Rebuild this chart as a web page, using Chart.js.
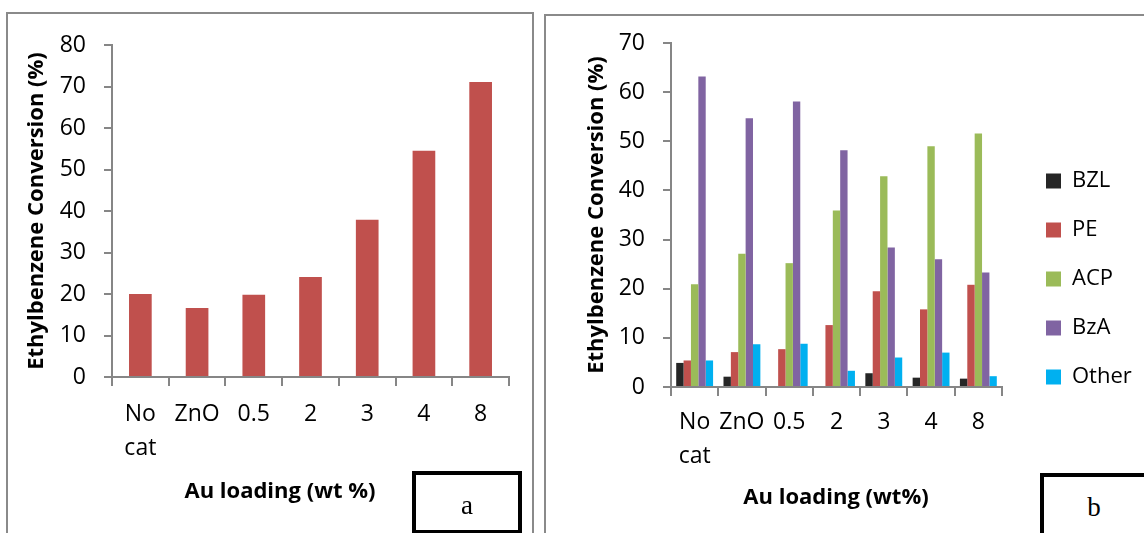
<!DOCTYPE html>
<html>
<head>
<meta charset="utf-8">
<script src="https://cdn.jsdelivr.net/npm/chart.js"></script>
<style>
  body { margin: 0; width: 1144px; height: 533px; background: #fff; overflow: hidden; position: relative; font-family: "Open Sans", sans-serif; }
  .panel { position: absolute; border: 2px solid #8a8a8a; box-sizing: border-box; }
  #panelA { left: 6px; top: 12px; width: 528px; height: 540px; }
  #panelB { left: 544px; top: 14px; width: 620px; height: 540px; }
  canvas { position: absolute; top: 0; }
  #chartA { left: 0; }
  #chartB { left: 540px; }
  .xtitle { position: absolute; font-weight: bold; font-size: 22px; color: #000; white-space: nowrap; transform: translate(-50%, -50%); }
  .tag { position: absolute; border: 4px solid #000; box-sizing: border-box; background: #fff; font-family: "Liberation Serif", serif; font-size: 27px; }
  .tag span { position: absolute; transform: translate(-50%, -50%); }
</style>
</head>
<body>
<div class="panel" id="panelA"></div>
<div class="panel" id="panelB"></div>
<canvas id="chartA" width="540" height="533"></canvas>
<canvas id="chartB" width="604" height="533"></canvas>
<div class="xtitle" style="left:280px; top:489px;">Au loading (wt %)</div>
<div class="xtitle" style="left:836px; top:495px;">Au loading (wt%)</div>
<div class="tag" style="left:412px; top:471px; width:110px; height:63px;"><span style="left:51px; top:30px;">a</span></div>
<div class="tag" style="left:1040px; top:473px; width:120px; height:70px;"><span style="left:50px; top:30px;">b</span></div>
<script>
// x categories shared by both panels
const categories = [['No', 'cat'], 'ZnO', '0.5', '2', '3', '4', '8'];

// panel a: total conversion
const conversion = [20.0, 16.6, 19.8, 24.1, 37.9, 54.5, 71.1];

// panel b: product distribution
const productNames = ['BZL', 'PE', 'ACP', 'BzA', 'Other'];
const bzl = [4.9, 2.1, 0, 0, 2.8, 1.9, 1.7];
const pe = [5.4, 7.1, 7.7, 12.6, 19.5, 15.8, 20.8];
const acp = [20.9, 27.1, 25.2, 35.9, 42.9, 49.0, 51.6];
const bza = [63.2, 54.7, 58.1, 48.2, 28.4, 26.0, 23.3];
const other = [5.4, 8.7, 8.8, 3.3, 6.0, 7.0, 2.2];
const productColors = ['#262626', '#C0504D', '#9BBB59', '#8064A2', '#00B0F0'];

const axisGray = '#868686';
const fontFamily = '"Open Sans", sans-serif';

function yAxis(max, width, titlePad) {
  return {
    min: 0,
    max: max,
    afterFit: (scale) => { scale.width = width; },
    border: { display: true, color: axisGray, width: 2 },
    grid: { drawOnChartArea: false, drawTicks: true, tickLength: 8, color: axisGray, lineWidth: 2 },
    ticks: { stepSize: 10, padding: 18, color: '#000', font: { family: fontFamily, size: 23 } },
    title: {
      display: true,
      text: 'Ethylbenzene Conversion (%)',
      color: '#000',
      padding: { top: titlePad, bottom: 0 },
      font: { family: fontFamily, size: 22, weight: 'bold' }
    }
  };
}

function xAxis(height, labelPad) {
  return {
    afterFit: (scale) => { scale.height = height; },
    border: { display: true, color: axisGray, width: 2 },
    grid: { offset: true, drawOnChartArea: false, drawTicks: true, tickLength: 9, color: axisGray, lineWidth: 2 },
    ticks: { padding: labelPad, color: '#000', maxRotation: 0, autoSkip: false, font: { family: fontFamily, size: 23, lineHeight: 1.45 } }
  };
}

// panel a
new Chart(document.getElementById('chartA'), {
  type: 'bar',
  data: {
    labels: categories,
    datasets: [{
      label: 'Conversion',
      data: conversion,
      backgroundColor: '#C0504D',
      borderWidth: 0,
      categoryPercentage: 1,
      barPercentage: 0.4
    }]
  },
  options: {
    responsive: false,
    animation: false,
    devicePixelRatio: 1,
    layout: { padding: { top: 45, right: 31, bottom: 0, left: 0 } },
    plugins: { legend: { display: false }, tooltip: { enabled: false } },
    scales: {
      x: xAxis(156, 12),
      y: yAxis(80, 112, 24)
    }
  }
});

// panel b
const productData = [bzl, pe, acp, bza, other];
new Chart(document.getElementById('chartB'), {
  type: 'bar',
  data: {
    labels: categories,
    datasets: productNames.map((name, i) => ({
      label: name,
      data: productData[i],
      backgroundColor: productColors[i],
      borderWidth: 0,
      categoryPercentage: 0.78,
      barPercentage: 1
    }))
  },
  options: {
    responsive: false,
    animation: false,
    devicePixelRatio: 1,
    layout: { padding: { top: 43, right: 7, bottom: 18, left: 0 } },
    plugins: {
      tooltip: { enabled: false },
      legend: {
        position: 'right',
        maxWidth: 118,
        labels: {
          boxWidth: 15,
          boxHeight: 15,
          padding: 27,
          color: '#000',
          font: { family: fontFamily, size: 22 }
        }
      }
    },
    scales: {
      x: xAxis(128, 10),
      y: yAxis(70, 131, 44),
      // empty spacer between plot and legend
      gap: {
        position: 'right',
        afterFit: (scale) => { scale.width = 17; },
        border: { display: false },
        grid: { display: false },
        ticks: { display: false }
      }
    }
  }
});
</script>
</body>
</html>
